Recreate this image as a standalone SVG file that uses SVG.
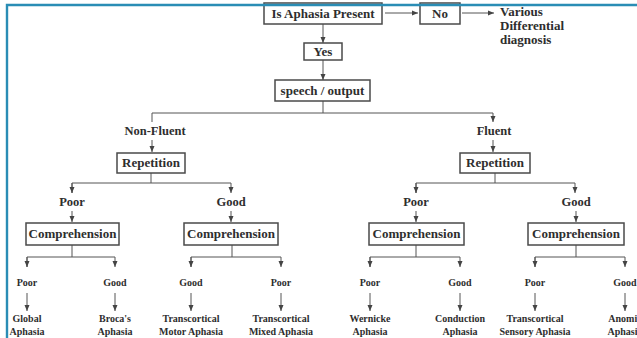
<svg xmlns="http://www.w3.org/2000/svg" width="637" height="338" viewBox="0 0 637 338">
<style>
text{font-family:"Liberation Serif","Times New Roman",serif;font-weight:bold;fill:#2e2e2e;text-anchor:middle}
.t{font-size:13px}
.m{font-size:12.5px}
.s{font-size:10px}
.box{fill:#fff;stroke:#4a4a4a;stroke-width:1.5}
.c{fill:none;stroke:#555;stroke-width:1}
.a{fill:none;stroke:#555;stroke-width:1;marker-end:url(#ah)}
.frame{stroke:#2a8db5;stroke-width:2.4;fill:none}
</style>
<defs>
<marker id="ah" markerUnits="userSpaceOnUse" markerWidth="6" markerHeight="6" viewBox="0 0 6 6" refX="6" refY="3" orient="auto">
<path d="M0,0.5 L6,3 L0,5.5 Z" fill="#444"/>
</marker>
</defs>
<rect width="637" height="338" fill="#fff"/>

<g id="connectors">
<line class="a" x1="385" y1="13" x2="418" y2="13"/>
<line class="a" x1="462" y1="13" x2="494" y2="13"/>
<line class="a" x1="323" y1="24" x2="323" y2="43"/>
<line class="a" x1="323" y1="60" x2="323" y2="80"/>
<polyline class="c" points="323,101 323,113"/>
<polyline class="a" points="152,122 152,113 493,113 493,122"/>
<line class="a" x1="152" y1="140" x2="152" y2="152"/>
<line class="a" x1="493" y1="140" x2="493" y2="152"/>
<line class="c" x1="151" y1="173" x2="151" y2="183"/>
<polyline class="a" points="72,193 72,183 231,183 231,193"/>
<line class="a" x1="72" y1="183" x2="72" y2="193"/>
<line class="c" x1="495" y1="173" x2="495" y2="183"/>
<polyline class="a" points="416,193 416,183 575,183 575,193"/>
<line class="a" x1="416" y1="183" x2="416" y2="193"/>
<line class="a" x1="72" y1="211" x2="72" y2="222"/>
<line class="a" x1="231" y1="211" x2="231" y2="222"/>
<line class="a" x1="416" y1="211" x2="416" y2="222"/>
<line class="a" x1="576" y1="211" x2="576" y2="222"/>
<line class="c" x1="72" y1="245" x2="72" y2="257"/>
<polyline class="a" points="27,267 27,257 115,257 115,267"/>
<line class="a" x1="27" y1="257" x2="27" y2="267"/>
<line class="c" x1="232" y1="245" x2="232" y2="257"/>
<polyline class="a" points="191,267 191,257 281,257 281,267"/>
<line class="a" x1="191" y1="257" x2="191" y2="267"/>
<line class="c" x1="416" y1="245" x2="416" y2="257"/>
<polyline class="a" points="370,267 370,257 460,257 460,267"/>
<line class="a" x1="370" y1="257" x2="370" y2="267"/>
<line class="c" x1="576" y1="245" x2="576" y2="257"/>
<polyline class="a" points="535,267 535,257 625,257 625,267"/>
<line class="a" x1="535" y1="257" x2="535" y2="267"/>
<line class="a" x1="27" y1="293" x2="27" y2="311"/>
<line class="a" x1="115" y1="293" x2="115" y2="311"/>
<line class="a" x1="191" y1="293" x2="191" y2="311"/>
<line class="a" x1="281" y1="293" x2="281" y2="311"/>
<line class="a" x1="370" y1="293" x2="370" y2="311"/>
<line class="a" x1="460" y1="293" x2="460" y2="311"/>
<line class="a" x1="535" y1="293" x2="535" y2="311"/>
<line class="a" x1="625" y1="293" x2="625" y2="311"/>
</g>

<g id="present"><rect class="box" x="264" y="3" width="118" height="21"/><text class="t" x="323" y="18">Is Aphasia Present</text></g>
<g id="no"><rect class="box" x="420" y="3" width="40" height="21"/><text class="t" x="440" y="18">No</text></g>
<g id="various"><text class="t" x="500" y="16" style="text-anchor:start">Various</text><text class="t" x="500" y="30" style="text-anchor:start">Differential</text><text class="t" x="500" y="44" style="text-anchor:start">diagnosis</text></g>
<g id="yes"><rect class="box" x="304" y="43" width="38" height="17"/><text class="t" x="323" y="56">Yes</text></g>
<g id="speech"><rect class="box" x="275" y="80" width="95" height="21"/><text class="t" x="322.5" y="95">speech / output</text></g>

<g id="nonfluent"><text class="m" x="155" y="135">Non-Fluent</text></g>
<g id="fluent"><text class="m" x="494" y="135">Fluent</text></g>
<g id="rep-left"><rect class="box" x="117" y="153" width="68" height="20"/><text class="t" x="151" y="167">Repetition</text></g>
<g id="rep-right"><rect class="box" x="460" y="153" width="70" height="20"/><text class="t" x="495" y="167">Repetition</text></g>

<g id="nf-poor"><text class="m" x="72" y="206">Poor</text></g>
<g id="nf-good"><text class="m" x="231" y="206">Good</text></g>
<g id="f-poor"><text class="m" x="416" y="206">Poor</text></g>
<g id="f-good"><text class="m" x="576" y="206">Good</text></g>

<g id="comp1"><rect class="box" x="26" y="223" width="93" height="22"/><text class="t" x="72.5" y="238">Comprehension</text></g>
<g id="comp2"><rect class="box" x="184" y="223" width="94" height="22"/><text class="t" x="231" y="238">Comprehension</text></g>
<g id="comp3"><rect class="box" x="369" y="223" width="95" height="22"/><text class="t" x="416.5" y="238">Comprehension</text></g>
<g id="comp4"><rect class="box" x="528" y="223" width="96" height="22"/><text class="t" x="576" y="238">Comprehension</text></g>

<g id="l1"><text class="s" x="27" y="286">Poor</text><text class="s" x="27" y="322">Global</text><text class="s" x="27" y="335">Aphasia</text></g>
<g id="l2"><text class="s" x="115" y="286">Good</text><text class="s" x="115" y="322">Broca's</text><text class="s" x="115" y="335">Aphasia</text></g>
<g id="l3"><text class="s" x="191" y="286">Good</text><text class="s" x="191" y="322">Transcortical</text><text class="s" x="191" y="335">Motor Aphasia</text></g>
<g id="l4"><text class="s" x="281" y="286">Poor</text><text class="s" x="281" y="322">Transcortical</text><text class="s" x="281" y="335">Mixed Aphasia</text></g>
<g id="l5"><text class="s" x="370" y="286">Poor</text><text class="s" x="370" y="322">Wernicke</text><text class="s" x="370" y="335">Aphasia</text></g>
<g id="l6"><text class="s" x="460" y="286">Good</text><text class="s" x="460" y="322">Conduction</text><text class="s" x="460" y="335">Aphasia</text></g>
<g id="l7"><text class="s" x="535" y="286">Poor</text><text class="s" x="535" y="322">Transcortical</text><text class="s" x="535" y="335">Sensory Aphasia</text></g>
<g id="l8"><text class="s" x="625" y="286">Good</text><text class="s" x="625" y="322">Anomic</text><text class="s" x="625" y="335">Aphasia</text></g>

<path class="frame" d="M7,338 V5 H637"/>
</svg>
